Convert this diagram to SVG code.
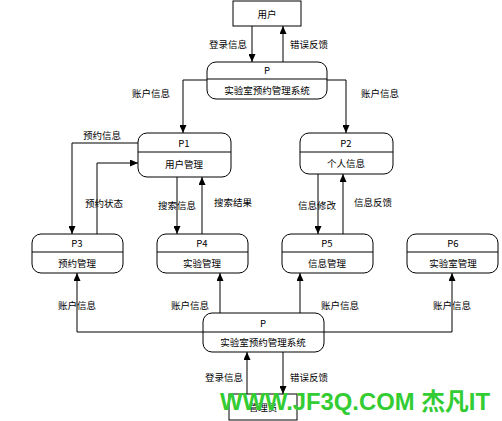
<svg xmlns="http://www.w3.org/2000/svg" width="502" height="421" viewBox="0 0 502 421">
<defs>
<marker id="arr" markerUnits="userSpaceOnUse" markerWidth="8" markerHeight="7" refX="8" refY="3.5" orient="auto">
<path d="M0,0 L8,3.5 L0,7 z" fill="#000"/>
</marker>
<style>
.box{fill:#fff;stroke:#000;stroke-width:1}
.ln{fill:none;stroke:#000;stroke-width:1}
.t{font-family:"Noto Sans CJK SC","Liberation Sans",sans-serif;font-size:9.5px;fill:#000;text-anchor:middle;dominant-baseline:central}
.c{fill:none;stroke:#000;stroke-width:1;marker-end:url(#arr)}
</style>
</defs>
<rect width="502" height="421" fill="#fff"/>
<g id="connectors">
<path class="c" d="M252,26 V62"/>
<path class="c" d="M283,62 V26"/>
<path class="c" d="M207,80 H183 V133"/>
<path class="c" d="M327,80 H346 V133"/>
<path class="c" d="M138,143 H72 V234"/>
<path class="c" d="M97,234 V163 H138"/>
<path class="c" d="M177,177 V234"/>
<path class="c" d="M202,234 V177"/>
<path class="c" d="M318,174 V234"/>
<path class="c" d="M343,234 V174"/>
<path class="c" d="M203,332 H77 V273"/>
<path class="c" d="M220,313 V273"/>
<path class="c" d="M300,313 V273"/>
<path class="c" d="M324,332 H452 V273"/>
<path class="c" d="M247,394 V352"/>
<path class="c" d="M283,352 V394"/>
<text class="t" x="228" y="44">登录信息</text>
<text class="t" x="309" y="44">错误反馈</text>
<text class="t" x="151" y="93">账户信息</text>
<text class="t" x="380" y="93">账户信息</text>
<text class="t" x="102" y="135">预约信息</text>
<text class="t" x="104" y="203">预约状态</text>
<text class="t" x="177" y="205">搜索信息</text>
<text class="t" x="233" y="202">搜索结果</text>
<text class="t" x="317" y="205">信息修改</text>
<text class="t" x="373" y="202">信息反馈</text>
<text class="t" x="77" y="305">账户信息</text>
<text class="t" x="190" y="305">账户信息</text>
<text class="t" x="340" y="305">账户信息</text>
<text class="t" x="452" y="305">账户信息</text>
<text class="t" x="224" y="377">登录信息</text>
<text class="t" x="309" y="377">错误反馈</text>
</g>
<g id="user">
<rect class="box" x="233" y="1" width="68" height="25"/>
<text class="t" x="267" y="14">用户</text>
</g>
<g id="P">
<rect class="box" x="207" y="62" width="120" height="37" rx="9"/>
<line class="ln" x1="207" y1="79" x2="327" y2="79"/>
<text class="t" x="267" y="70">P</text>
<text class="t" x="267" y="90">实验室预约管理系统</text>
</g>
<g id="P1">
<rect class="box" x="138" y="133" width="93" height="44" rx="9"/>
<line class="ln" x1="138" y1="152" x2="231" y2="152"/>
<text class="t" x="184" y="143">P1</text>
<text class="t" x="184" y="164">用户管理</text>
</g>
<g id="P2">
<rect class="box" x="300" y="133" width="93" height="41" rx="9"/>
<line class="ln" x1="300" y1="152" x2="393" y2="152"/>
<text class="t" x="346" y="143">P2</text>
<text class="t" x="346" y="163">个人信息</text>
</g>
<g id="P3">
<rect class="box" x="32" y="234" width="91" height="39" rx="9"/>
<line class="ln" x1="32" y1="252" x2="123" y2="252"/>
<text class="t" x="77" y="243">P3</text>
<text class="t" x="77" y="263">预约管理</text>
</g>
<g id="P4">
<rect class="box" x="157" y="234" width="91" height="39" rx="9"/>
<line class="ln" x1="157" y1="252" x2="248" y2="252"/>
<text class="t" x="202" y="243">P4</text>
<text class="t" x="202" y="263">实验管理</text>
</g>
<g id="P5">
<rect class="box" x="282" y="234" width="91" height="39" rx="9"/>
<line class="ln" x1="282" y1="252" x2="373" y2="252"/>
<text class="t" x="327" y="243">P5</text>
<text class="t" x="327" y="263">信息管理</text>
</g>
<g id="P6">
<rect class="box" x="407" y="234" width="91" height="39" rx="9"/>
<line class="ln" x1="407" y1="252" x2="498" y2="252"/>
<text class="t" x="453" y="243">P6</text>
<text class="t" x="453" y="263">实验室管理</text>
</g>
<g id="Pbottom">
<rect class="box" x="203" y="313" width="121" height="39" rx="9"/>
<line class="ln" x1="203" y1="332" x2="324" y2="332"/>
<text class="t" x="263" y="323">P</text>
<text class="t" x="263" y="342">实验室预约管理系统</text>
</g>
<g id="admin">
<rect class="box" x="229" y="394" width="68" height="26"/>
<text class="t" x="263" y="407">管理员</text>
</g>
<text x="220" y="410" font-family="'Liberation Sans','Noto Sans CJK SC',sans-serif" font-size="24" font-weight="bold" fill="#33cc33" textLength="270" lengthAdjust="spacingAndGlyphs">WWW.JF3Q.COM 杰凡IT</text>
</svg>
